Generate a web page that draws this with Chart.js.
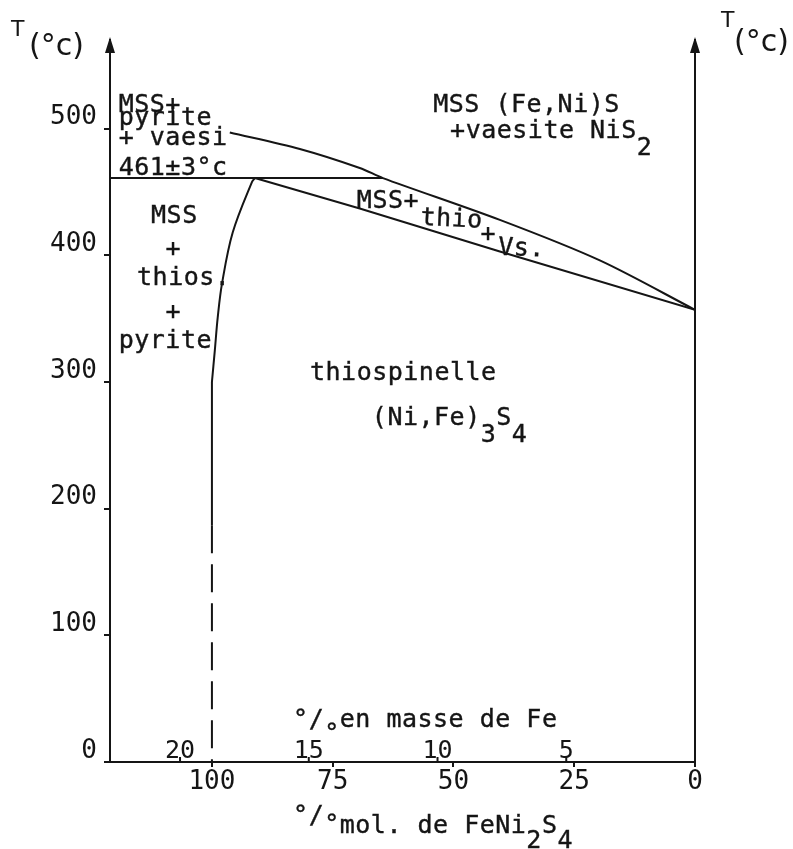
<!DOCTYPE html>
<html>
<head>
<meta charset="utf-8">
<script src="https://cdn.jsdelivr.net/npm/chart.js@4.4.1/dist/chart.umd.min.js"></script>
<style>
html, body { margin: 0; padding: 0; background: #fff; }
#wrap { width: 793px; height: 849px; position: relative; }
</style>
</head>
<body>
<div id="wrap"><canvas id="phaseChart"></canvas></div>
<script>
// axes
const tempTicks = [0, 100, 200, 300, 400, 500];
const molTicks = [100, 75, 50, 25, 0];
const feTicks = [20, 15, 10, 5];
const molMax = 121.1;
const feMax = 22.72;
const tempMax = 570;

// 461 C plateau
const plateauMol = [121.1, 64.6];
const plateauT = [461, 461];

// upper limit MSS + vaesite
const upperMol = [96.3, 81.8, 69.4, 64.6, 40.4, 19.7, 0];
const upperT = [497, 484, 469, 461, 428, 396, 357];

// lower limit of the thiospinelle field
const lowerMol = [91.1, 69.4, 40.4, 0];
const lowerT = [461, 437, 403, 357];

// pyrite limit (curved part, then straight, then dashed)
const pyriteMol = [91.1, 91.7, 95.7, 97.9, 98.8, 99.4, 100];
const pyriteT = [461, 458, 418, 378, 351, 325, 300];
const stemMol = [100, 100];
const stemT = [300, 187];
const dashedMol = [100, 100];
const dashedT = [187, 0];

const ink = '#151515';
const mono = '"DejaVu Sans Mono", monospace';

const toPts = (xs, ys) => xs.map((x, i) => ({ x: x, y: ys[i] }));

function line(xs, ys, extra) {
    return Object.assign({
        data: toPts(xs, ys),
        showLine: true,
        borderColor: ink,
        borderWidth: 2,
        pointRadius: 0,
        fill: false,
        xAxisID: 'x',
        yAxisID: 'y'
    }, extra || {});
}

// region names, placed in data units (mol %, T)
// parts: [text, vertical shift in px]
const regionLabels = [
    { mol: 119.3, T: 513.4, parts: [['MSS+', 0]] },
    { mol: 119.3, T: 503.2, parts: [['pyrite', 0]] },
    { mol: 119.3, T: 487.4, parts: [['+ vaesi', 0]] },
    { mol: 119.3, T: 463.7, parts: [['461±3°c', 0]] },
    { mol: 112.6, T: 425.7, parts: [['MSS', 0]] },
    { mol: 109.6, T: 399.7, parts: [['+', 0]] },
    { mol: 115.5, T: 376.8, parts: [['thios.', 0]] },
    { mol: 109.6, T: 349.9, parts: [['+', 0]] },
    { mol: 119.3, T: 327.0, parts: [['pyrite', 0]] },
    { mol: 54.2, T: 513.4, parts: [['MSS (Fe,Ni)S', 0]] },
    { mol: 50.7, T: 492.9, parts: [['+vaesite NiS', 0], ['2', 17]] },
    { mol: 70.0, T: 437.6, parts: [['MSS+', 0]] },
    { mol: 56.9, T: 424.2, parts: [['thio', 0]], rot: 0.05 },
    { mol: 44.4, T: 411.5, parts: [['+', 0]] },
    { mol: 40.8, T: 400.5, parts: [['Vs.', 0]], rot: 0.04 },
    { mol: 79.7, T: 301.7, parts: [['thiospinelle', 0]] },
    { mol: 66.9, T: 266.2, parts: [['(Ni,Fe)', 0], ['3', 17], ['S', 0], ['4', 17]] },
    { mol: 83.2, T: 27.6, parts: [['°/', 0], ['°', 14], ['en masse de Fe', 0]] },
    { mol: 83.2, T: -56.1, parts: [['°/', -10], ['°', -1], ['mol. de FeNi', 0], ['2', 15], ['S', 0], ['4', 15]] }
];

const phaseText = {
    id: 'phaseText',
    afterDraw(chart) {
        const ctx = chart.ctx;
        const xs = chart.scales.x;
        const ys = chart.scales.y;
        ctx.save();
        ctx.fillStyle = ink;
        ctx.strokeStyle = ink;
        ctx.lineWidth = 0.4;
        ctx.font = '25px ' + mono;
        ctx.letterSpacing = '0.5px';
        ctx.textAlign = 'left';
        ctx.textBaseline = 'alphabetic';
        regionLabels.forEach(lab => {
            const x0 = xs.getPixelForValue(lab.mol);
            const y0 = ys.getPixelForValue(lab.T);
            ctx.save();
            ctx.translate(x0, y0);
            if (lab.rot) ctx.rotate(lab.rot);
            let x = 0;
            lab.parts.forEach(p => {
                ctx.fillText(p[0], x, p[1]);
                ctx.strokeText(p[0], x, p[1]);
                x += ctx.measureText(p[0]).width;
            });
            ctx.restore();
        });
        ctx.restore();
    }
};

const axisDecor = {
    id: 'axisDecor',
    afterDraw(chart) {
        const ctx = chart.ctx;
        const a = chart.chartArea;
        const fe = chart.scales.x2;
        ctx.save();
        ctx.fillStyle = ink;
        ctx.strokeStyle = ink;
        ctx.lineWidth = 2;

        // arrow heads on both temperature axes
        [a.left, a.right].forEach(x => {
            ctx.beginPath();
            ctx.moveTo(x, a.top - 3);
            ctx.lineTo(x - 5, a.top + 13);
            ctx.lineTo(x + 5, a.top + 13);
            ctx.closePath();
            ctx.fill();
        });

        // mass % Fe scale, drawn above the bottom axis
        ctx.font = '25px ' + mono;
        ctx.textAlign = 'center';
        ctx.textBaseline = 'alphabetic';
        feTicks.forEach(v => {
            const x = fe.getPixelForValue(v);
            ctx.beginPath();
            ctx.moveTo(x, a.bottom);
            ctx.lineTo(x, a.bottom - 5);
            ctx.stroke();
            ctx.fillText(String(v), x, a.bottom - 4);
        });

        // T(°c) titles
        ctx.textAlign = 'left';
        ctx.font = '22px "DejaVu Sans"';
        ctx.fillText('T', 11, 36);
        ctx.fillText('T', 721, 27);
        ctx.font = '30px "DejaVu Sans"';
        ctx.fillText('(°c)', 29, 55);
        ctx.fillText('(°c)', 734, 51);
        ctx.restore();
    }
};

const ctx = document.getElementById('phaseChart').getContext('2d');

new Chart(ctx, {
    type: 'scatter',
    data: {
        datasets: [
            line(plateauMol, plateauT),
            line(upperMol, upperT, { tension: 0.3 }),
            line(lowerMol, lowerT),
            line(pyriteMol, pyriteT, { tension: 0.35 }),
            line(stemMol, stemT),
            line(dashedMol, dashedT, { borderDash: [28, 11] })
        ]
    },
    options: {
        responsive: true,
        maintainAspectRatio: false,
        animation: false,
        layout: { padding: { top: 40, left: 0, right: 0, bottom: 0 } },
        plugins: {
            legend: { display: false },
            tooltip: { enabled: false }
        },
        scales: {
            x: {
                type: 'linear',
                axis: 'x',
                position: 'bottom',
                reverse: true,
                min: 0,
                max: molMax,
                afterBuildTicks: axis => { axis.ticks = molTicks.map(v => ({ value: v })); },
                afterFit: axis => { axis.height = 87; },
                grid: { drawOnChartArea: false, drawTicks: true, tickLength: 5, color: ink, lineWidth: 2 },
                border: { display: true, color: ink, width: 2 },
                ticks: {
                    color: ink,
                    font: { family: 'DejaVu Sans Mono', size: 26 },
                    padding: 0,
                    maxRotation: 0,
                    autoSkip: false
                }
            },
            x2: {
                type: 'linear',
                axis: 'x',
                position: 'bottom',
                display: false,
                reverse: true,
                min: 0,
                max: feMax
            },
            y: {
                type: 'linear',
                axis: 'y',
                position: 'left',
                min: 0,
                max: tempMax,
                afterBuildTicks: axis => { axis.ticks = tempTicks.map(v => ({ value: v })); },
                afterFit: axis => { axis.width = 110; },
                grid: { drawOnChartArea: false, drawTicks: true, tickLength: 6, color: ink, lineWidth: 2 },
                border: { display: true, color: ink, width: 2 },
                ticks: {
                    color: ink,
                    font: { family: 'DejaVu Sans Mono', size: 26 },
                    padding: 7,
                    labelOffset: -11
                }
            },
            y2: {
                type: 'linear',
                axis: 'y',
                position: 'right',
                min: 0,
                max: tempMax,
                afterFit: axis => { axis.width = 98; },
                grid: { display: false, drawTicks: false },
                border: { display: true, color: ink, width: 2 },
                ticks: { display: false }
            }
        }
    },
    plugins: [phaseText, axisDecor]
});
</script>
</body>
</html>
